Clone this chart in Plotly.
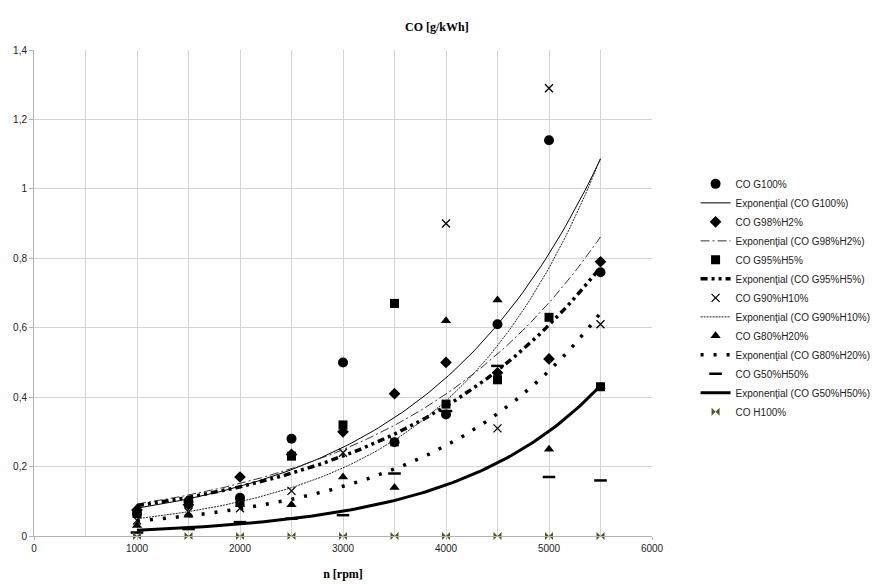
import numpy as np
import plotly.graph_objects as go

rpm = [1000, 1500, 2000, 2500, 3000, 3500, 4000, 4500, 5000, 5500]

co_g100 = [0.065, 0.10, 0.11, 0.28, 0.50, 0.27, 0.35, 0.61, 1.14, 0.76]
co_g98h2 = [0.075, 0.09, 0.17, 0.235, 0.30, 0.41, 0.50, 0.47, 0.51, 0.79]
co_g95h5 = [0.065, 0.095, 0.10, 0.23, 0.32, 0.67, 0.38, 0.45, 0.63, 0.43]
co_g90h10 = [0.045, 0.07, 0.08, 0.13, 0.24, 0.27, 0.90, 0.31, 1.29, 0.61]
co_g80h20 = [0.03, 0.06, 0.09, 0.09, 0.17, 0.14, 0.62, 0.68, 0.25, 0.43]
co_g50h50 = [0.01, 0.02, 0.04, 0.05, 0.06, 0.18, 0.36, 0.49, 0.17, 0.16]
co_h100 = [0, 0, 0, 0, 0, 0, 0, 0, 0, 0]

series = [
    ("CO G100%", co_g100, "circle", 10, dict(color="black", width=1, dash="solid")),
    ("CO G98%H2%", co_g98h2, "diamond", 9, dict(color="#333333", width=1, dash="9px,3px,2px,3px")),
    ("CO G95%H5%", co_g95h5, "square", 9, dict(color="black", width=3.5, dash="7px,4px,3px,4px,3px,4px")),
    ("CO G90%H10%", co_g90h10, "x-thin-open", 8, dict(color="#222222", width=1, dash="2px,1px")),
    ("CO G80%H20%", co_g80h20, "triangle-up", 9, dict(color="black", width=3.5, dash="3px,10px")),
    ("CO G50%H50%", co_g50h50, "line-ew-open", 9, dict(color="black", width=3, dash="solid")),
]

xs = np.array(rpm, dtype=float)
xfit = np.linspace(min(rpm), max(rpm), 120)

marker_traces = []
line_traces = []
rank = 1
for name, vals, sym, size, line in series:
    ys = np.array(vals, dtype=float)
    if sym == "x-thin-open":
        mk = dict(symbol=sym, size=size, color="black", line=dict(color="#111111", width=1.3))
    elif sym == "line-ew-open":
        mk = dict(symbol=sym, size=size, color="black", line=dict(color="black", width=2.5))
    else:
        mk = dict(symbol=sym, size=size, color="black")
    marker_traces.append(go.Scatter(x=rpm, y=vals, mode="markers", name=name, marker=mk,
                                    legendrank=rank))
    rank += 1
    m = ys > 0
    b, a = np.polyfit(xs[m], np.log(ys[m]), 1)
    yfit = np.exp(a + b * xfit)
    line_traces.append(go.Scatter(x=xfit, y=yfit, mode="lines",
                                  name="Exponenţial (" + name + ")", line=line,
                                  legendrank=rank))
    rank += 1

fig = go.Figure()
# draw G80%H20% markers underneath the others
fig.add_trace(marker_traces[4])
for i, t in enumerate(marker_traces):
    if i != 4:
        fig.add_trace(t)
for t in line_traces:
    fig.add_trace(t)

fig.add_trace(go.Scatter(x=rpm, y=co_h100, mode="markers", name="CO H100%", cliponaxis=False,
                         marker=dict(symbol="bowtie", size=8, color="#4f5a1a"),
                         legendrank=rank))

fig.update_layout(
    width=877, height=576,
    paper_bgcolor="white", plot_bgcolor="white",
    separators=",.",
    margin=dict(l=26, r=233, t=42, b=48),
    title=dict(text="<b>CO [g/kWh]</b>", x=0.489, xanchor="center", y=0.967, yanchor="middle",
               font=dict(family="Liberation Serif", size=12, color="black")),
    font=dict(family="Liberation Sans", size=10, color="#222222"),
    showlegend=True,
    legend=dict(xref="container", x=0.784, xanchor="left", y=0.49, yanchor="middle",
                font=dict(family="Liberation Sans", size=10, color="#222222"),
                bgcolor="rgba(0,0,0,0)", tracegroupgap=0, traceorder="normal"),
)
fig.update_xaxes(range=[0, 6000], dtick=1000, tick0=0, showgrid=True, gridcolor="#d4d4d4",
                 minor=dict(dtick=500, showgrid=True, gridcolor="#d4d4d4"),
                 showline=True, linecolor="#b3b3b3", zeroline=False, automargin=False,
                 ticks="outside", ticklen=3, tickcolor="#b3b3b3",
                 tickfont=dict(family="Liberation Sans", size=10, color="#222222"),
                 title=dict(text="<b>n [rpm]</b>", standoff=16,
                            font=dict(family="Liberation Serif", size=12, color="black")))
fig.update_yaxes(range=[0, 1.4], dtick=0.2, tick0=0, showgrid=True, gridcolor="#d4d4d4",
                 showline=True, linecolor="#b3b3b3", zeroline=False, automargin=False,
                 ticks="outside", ticklen=4, tickcolor="#b3b3b3",
                 tickfont=dict(family="Liberation Sans", size=10, color="#222222"))

fig.write_html("out.html")
